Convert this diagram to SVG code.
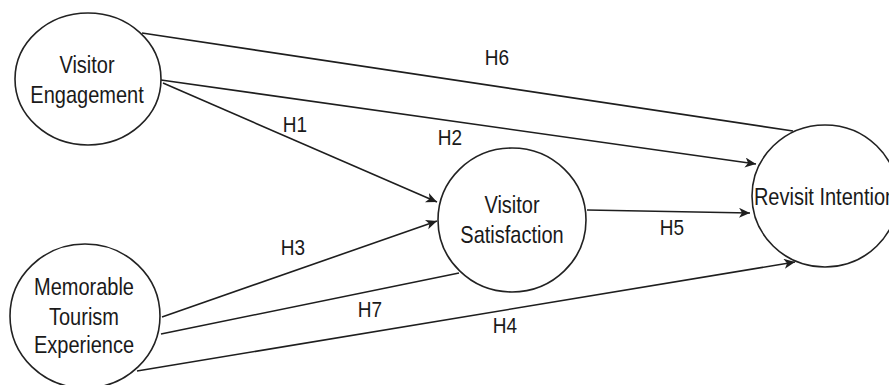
<svg xmlns="http://www.w3.org/2000/svg" width="889" height="385" viewBox="0 0 889 385">
<style>
.node{fill:#ffffff;stroke:#222222;stroke-width:1.6}
.t{font-family:"Liberation Sans",Arial,sans-serif;font-size:20px;fill:#1a1a1a;text-anchor:middle}
.l{font-family:"Liberation Sans",Arial,sans-serif;font-size:19px;fill:#1a1a1a;text-anchor:middle}
.c{fill:none;stroke:#1e1e1e;stroke-width:1.6}
</style>
<defs>
<marker id="arr" markerUnits="userSpaceOnUse" markerWidth="14" markerHeight="12" refX="11" refY="5" orient="auto">
<path d="M0,0 L11,5 L0,10 L3,5 z" fill="#1e1e1e"/>
</marker>
</defs>
<rect width="889" height="385" fill="#ffffff"/>
<g id="connectors">
<line class="c" x1="142" y1="33" x2="793" y2="131"/>
<line class="c" x1="161" y1="80" x2="756" y2="164" marker-end="url(#arr)"/>
<line class="c" x1="163" y1="83" x2="437" y2="202" marker-end="url(#arr)"/>
<line class="c" x1="162" y1="317" x2="437" y2="221" marker-end="url(#arr)"/>
<line class="c" x1="161" y1="334" x2="459" y2="273"/>
<line class="c" x1="137" y1="371" x2="795" y2="262" marker-end="url(#arr)"/>
<line class="c" x1="587" y1="210" x2="750" y2="213" marker-end="url(#arr)"/>
<text class="l" transform="translate(497 65) scale(1 1.2)">H6</text>
<text class="l" transform="translate(295 132) scale(1 1.2)">H1</text>
<text class="l" transform="translate(450 145) scale(1 1.2)">H2</text>
<text class="l" transform="translate(293 255) scale(1 1.2)">H3</text>
<text class="l" transform="translate(370 317) scale(1 1.2)">H7</text>
<text class="l" transform="translate(672 235) scale(1 1.2)">H5</text>
<text class="l" transform="translate(505 333) scale(1 1.2)">H4</text>
</g>
<g id="visitor-engagement">
<ellipse class="node" cx="88" cy="79" rx="73" ry="66"/>
<text class="t" transform="translate(87 73) scale(1 1.22)">Visitor</text>
<text class="t" transform="translate(87 103) scale(1 1.22)">Engagement</text>
</g>
<g id="memorable-tourism-experience">
<ellipse class="node" cx="85" cy="316" rx="75" ry="72"/>
<text class="t" transform="translate(84 295) scale(1 1.22)">Memorable</text>
<text class="t" transform="translate(84 325) scale(1 1.22)">Tourism</text>
<text class="t" transform="translate(84 353) scale(1 1.22)">Experience</text>
</g>
<g id="visitor-satisfaction">
<ellipse class="node" cx="512" cy="220" rx="74" ry="72"/>
<text class="t" transform="translate(512 213) scale(1 1.22)">Visitor</text>
<text class="t" transform="translate(512 243) scale(1 1.22)">Satisfaction</text>
</g>
<g id="revisit-intention">
<ellipse class="node" cx="825" cy="196" rx="73" ry="71"/>
<text class="t" transform="translate(825 205) scale(1 1.22)">Revisit Intention</text>
</g>
</svg>
